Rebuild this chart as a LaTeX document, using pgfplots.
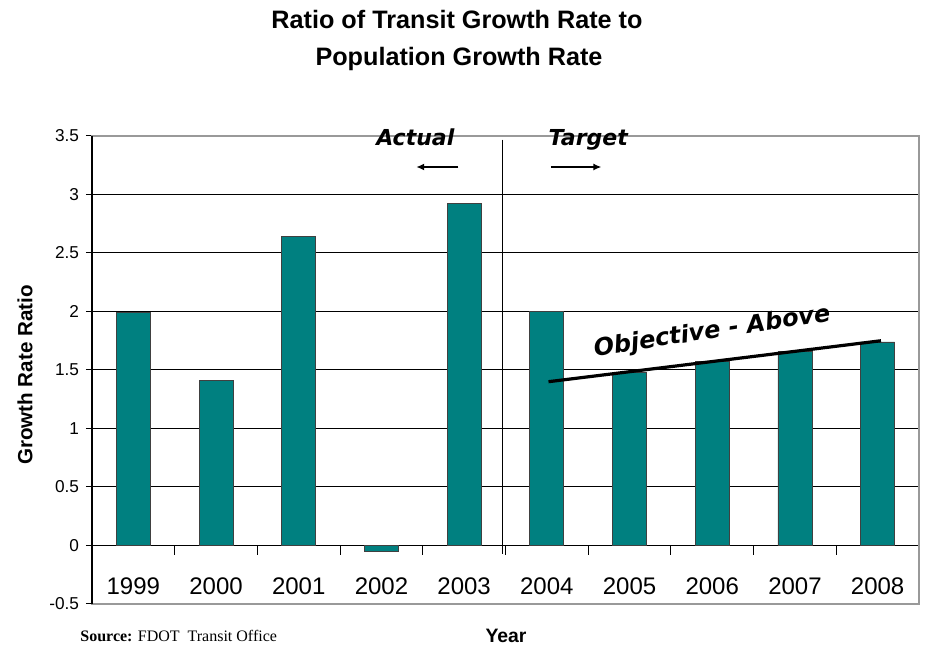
\documentclass[border=0pt]{standalone}
\usepackage{fontspec}
\setmainfont{Liberation Sans}
\newfontfamily\serifont{Liberation Serif}
\newfontfamily\vera{DejaVu Sans}
\usepackage{pgfplots}
\pgfplotsset{compat=1.18}
\usetikzlibrary{arrows.meta}
\definecolor{barteal}{HTML}{008080}
\begin{document}
\begin{tikzpicture}
\useasboundingbox (-46pt,-21pt) rectangle (417.5pt,302pt);
\begin{axis}[
  at={(0,0)}, anchor=south west,
  scale only axis, width=413.5pt, height=234pt,
  xmin=-0.5, xmax=9.5, ymin=-0.5, ymax=3.5,
  ybar, bar width=17pt,
  ytick={-0.5,0,0.5,1,1.5,2,2.5,3,3.5},
  yticklabels={-0.5,0,0.5,1,1.5,2,2.5,3,3.5},
  ytick pos=left,
  xtick={0,1,2,3,4,5,6,7,8,9},
  xticklabels={1999,2000,2001,2002,2003,2004,2005,2006,2007,2008},
  xtick style={draw=none},
  ytick style={black, line width=0.5pt},
  tick align=outside, major tick length=3pt,
  xticklabel style={font=\fontsize{12}{14}\selectfont, anchor=center, yshift=12pt},
  yticklabel style={font=\fontsize{8.6}{10}\selectfont},
  ymajorgrids, grid style={black, line width=0.5pt},
  axis line style={draw=black!40, line width=0.9pt},
  clip=false,
]
\addplot[fill=barteal, draw=black!75, line width=0.4pt]
  coordinates {(0,1.99) (1,1.41) (2,2.64) (3,-0.05) (4,2.92)
               (5,2.00) (6,1.48) (7,1.57) (8,1.66) (9,1.74)};
% objective line
\addplot[sharp plot, draw=black, line width=1.6pt, mark=none, forget plot]
  coordinates {(5.02,1.40) (9.04,1.75)};
% left axis line black
\draw[black, line width=0.6pt] (rel axis cs:0,0) -- (rel axis cs:0,1);
% category separator ticks
\pgfplotsinvokeforeach{0.5,1.5,2.5,3.5,4.5,5.5,6.5,7.5,8.5}{
  \draw[black, line width=0.5pt] (axis cs:#1,0) -- (axis cs:#1,-0.077);
}
% actual/target separator
\draw[black, line width=0.6pt] (axis cs:4.46,3.47) -- (axis cs:4.46,-0.07);
\draw[-{Latex[length=4pt,width=3.5pt]}, line width=0.9pt] (axis cs:3.93,3.235) -- (axis cs:3.42,3.235);
\draw[-{Latex[length=4pt,width=3.5pt]}, line width=0.9pt] (axis cs:5.05,3.235) -- (axis cs:5.66,3.235);
\node[anchor=base, inner sep=0pt, font=\vera\bfseries\itshape\fontsize{11}{13}\selectfont] at (axis cs:3.41,3.42) {Actual};
\node[anchor=base, inner sep=0pt, font=\vera\bfseries\itshape\fontsize{11}{13}\selectfont] at (axis cs:5.50,3.42) {Target};
\node[anchor=base, inner sep=0pt, rotate=8.5, font=\vera\bfseries\itshape\fontsize{12}{14}\selectfont] at (axis cs:7.01,1.77) {Objective - Above};
\end{axis}
\node[anchor=base, font=\bfseries\fontsize{12.6}{15}\selectfont] at (182.5pt,287.5pt) {Ratio of Transit Growth Rate to};
\node[anchor=base, font=\bfseries\fontsize{12.6}{15}\selectfont] at (183.5pt,269pt) {Population Growth Rate};
\node[rotate=90, font=\bfseries\fontsize{10.3}{12}\selectfont] at (-33.5pt,114.5pt) {Growth Rate Ratio};
\node[anchor=base, font=\bfseries\fontsize{9.7}{12}\selectfont] at (207pt,-19.5pt) {Year};
\node[anchor=base west, inner sep=0pt, font=\serifont\fontsize{8}{9}\selectfont] at (-6pt,-19pt) {\textbf{Source:} FDOT\ \ Transit Office};
\end{tikzpicture}
\end{document}
